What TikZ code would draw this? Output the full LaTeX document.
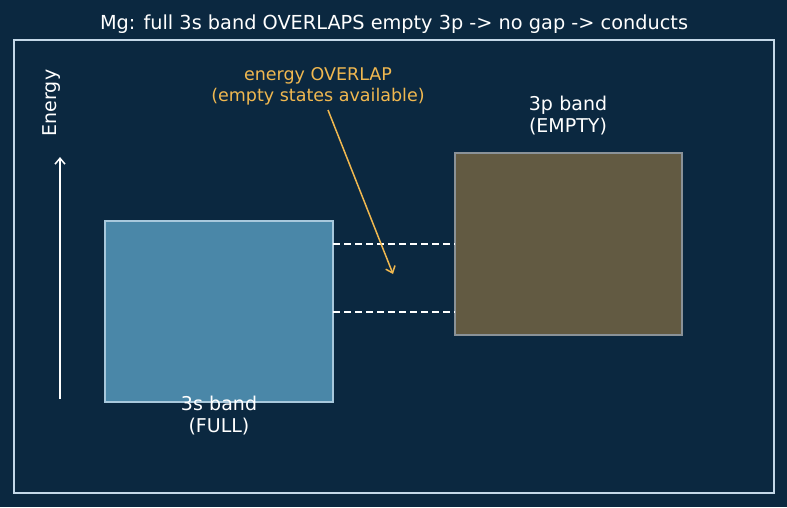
\documentclass[tikz,border=0pt]{standalone}
\usepackage{fontspec}
\setmainfont{DejaVu Sans}
\usetikzlibrary{arrows.meta}
\definecolor{bg}{HTML}{0B2840}
\definecolor{frame}{HTML}{C4D8E8}
\definecolor{sfill}{HTML}{4A87A8}
\definecolor{sedge}{HTML}{A8C8DC}
\definecolor{pfill}{HTML}{625A42}
\definecolor{pedge}{HTML}{8A9298}
\definecolor{ann}{HTML}{F0B850}
\tikzset{
  lbl/.style={text=white, font=\fontsize{19}{22}\selectfont, align=center, inner sep=0pt},
  annlbl/.style={text=ann, font=\fontsize{17.5}{21}\selectfont, align=center, inner sep=0pt},
  gapline/.style={white, dash pattern=on 7pt off 4pt, line width=1.6pt},
}
\begin{document}
\begin{tikzpicture}[x=1pt,y=-1pt]
\fill[bg] (0,0) rectangle (787,507);
\useasboundingbox (0,0) rectangle (787,507);
\node[text=white, font=\fontsize{19.3}{22}\selectfont, inner sep=0pt] (title) at (394,24) {Mg: full 3s band OVERLAPS empty 3p -> no gap -> conducts};
\draw[frame, line width=1.2pt] (14,40) rectangle (774,493);
\coordinate (e0) at (60,399);
\coordinate (e1) at (60,157);
\draw[white, line width=1.5pt, -{Straight Barb[length=6pt,width=10pt]}] (e0) -- (e1);
\node[lbl, rotate=90] (energy) at (52,103) {Energy};
\draw[sedge, fill=sfill, line width=1.2pt] (105,221) rectangle (333,402);
\coordinate (s-ne) at (333,244);
\coordinate (s-se) at (333,312);
\draw[pedge, fill=pfill, line width=1.2pt] (455,153) rectangle (682,335);
\coordinate (p-nw) at (455,244);
\coordinate (p-sw) at (455,312);
\draw[gapline] (s-ne) -- (p-nw);
\draw[gapline] (s-se) -- (p-sw);
\node[lbl, text width=160pt] (slbl) at (219,415.5) {3s band\\(FULL)};
\node[lbl, text width=160pt] (plbl) at (568,116) {3p band\\(EMPTY)};
\node[annlbl] (annot) at (318,86) {energy OVERLAP\\(empty states available)};
\coordinate (atip) at (393,274);
\draw[ann, line width=1.5pt, -{Straight Barb[length=6pt,width=10pt]}] (328,110) -- (atip);
\end{tikzpicture}
\end{document}
